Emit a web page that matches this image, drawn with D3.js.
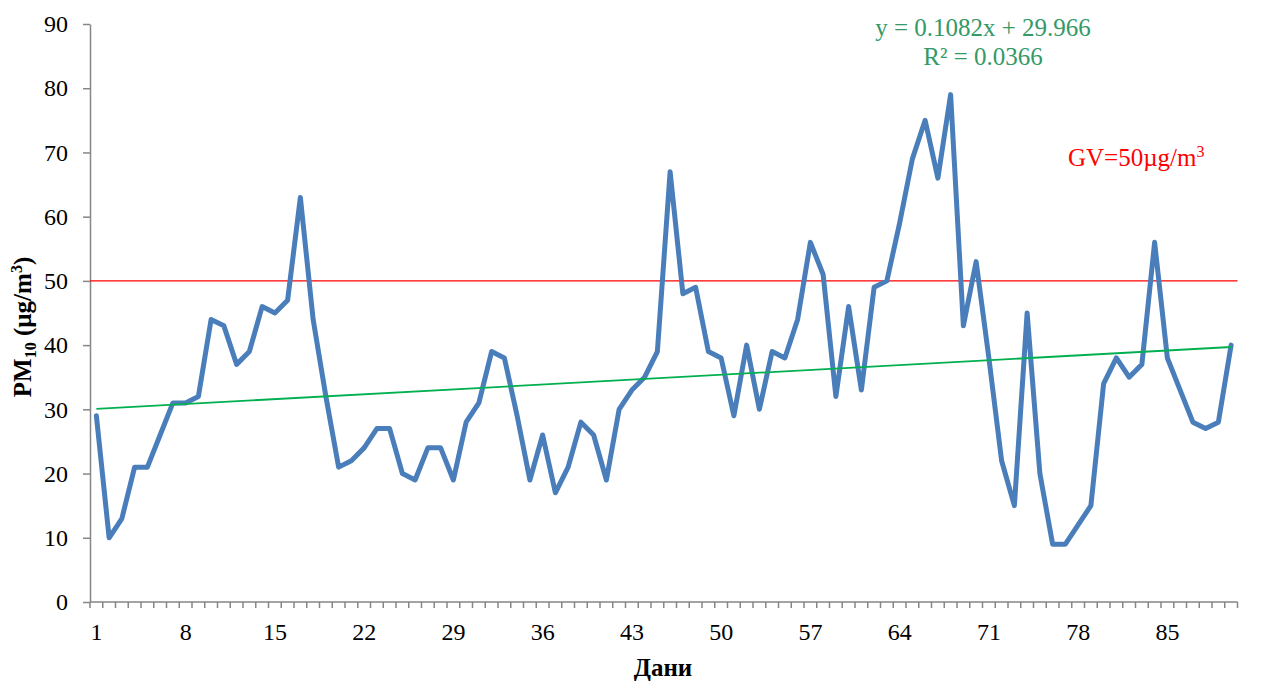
<!DOCTYPE html>
<html>
<head>
<meta charset="utf-8">
<script src="https://cdn.jsdelivr.net/npm/d3@7"></script>
<style>
    body { margin: 0; background: #fff; }
    svg text { font-family: "Liberation Serif", "Times New Roman", serif; }
</style>
</head>
<body>
<svg id="chart" width="1263" height="682"></svg>
<script>
// daily PM10 concentrations (µg/m3), days 1..90
var days = d3.range(1, 91);
var pm10 = [
    29, 10, 13, 21, 21, 26, 31, 31, 32, 44,
    43, 37, 39, 46, 45, 47, 63, 44, 32, 21,
    22, 24, 27, 27, 20, 19, 24, 24, 19, 28,
    31, 39, 38, 29, 19, 26, 17, 21, 28, 26,
    19, 30, 33, 35, 39, 67, 48, 49, 39, 38,
    29, 40, 30, 39, 38, 44, 56, 51, 32, 46,
    33, 49, 50, 59, 69, 75, 66, 79, 43, 53,
    38, 22, 15, 45, 20, 9, 9, 12, 15, 34,
    38, 35, 37, 56, 38, 33, 28, 27, 28, 40
];
var xTickLabels = [1, 8, 15, 22, 29, 36, 43, 50, 57, 64, 71, 78, 85];
var yTicks = [0, 10, 20, 30, 40, 50, 60, 70, 80, 90];

// guideline value and linear trend as printed on the chart
var limitValue = 50;
var trendSlope = 0.1082,
    trendIntercept = 29.966,
    trendR2 = 0.0366;

var margin = { left: 90, right: 25.5, top: 24, bottom: 80 },
    width = 1263,
    height = 682;

var svg = d3.select('#chart');

var x = d3.scaleBand()
    .domain(days)
    .range([margin.left, width - margin.right])
    .padding(0);

var y = d3.scaleLinear()
    .domain([0, 90])
    .range([height - margin.bottom, margin.top]);

var cx = function(d) { return x(d) + x.bandwidth() / 2; };

var axisColor = '#868686';

// y axis
var yAxis = svg.append('g')
    .attr('transform', 'translate(' + margin.left + ',0)')
    .call(d3.axisLeft(y).tickValues(yTicks).tickSize(7).tickPadding(15).tickSizeOuter(0));
yAxis.select('.domain').attr('stroke', axisColor).attr('stroke-width', 1.5);
yAxis.selectAll('.tick line').attr('stroke', axisColor).attr('stroke-width', 1.5);
yAxis.selectAll('.tick text')
    .attr('font-size', 24)
    .attr('fill', '#000')
    .style('font-family', '"Liberation Serif", serif');

// x axis: tick marks between categories, labels every 7 days
var xBase = y(0);
var bounds = days.map(function(d) { return x(d); }).concat([x(days[days.length - 1]) + x.bandwidth()]);

svg.append('line')
    .attr('x1', margin.left)
    .attr('x2', width - margin.right)
    .attr('y1', xBase)
    .attr('y2', xBase)
    .attr('stroke', axisColor)
    .attr('stroke-width', 1.5);

svg.append('g').selectAll('line')
    .data(bounds)
    .join('line')
    .attr('x1', function(d) { return d; })
    .attr('x2', function(d) { return d; })
    .attr('y1', xBase)
    .attr('y2', xBase + 6)
    .attr('stroke', axisColor)
    .attr('stroke-width', 1.5);

svg.append('g').selectAll('text')
    .data(xTickLabels)
    .join('text')
    .attr('x', function(d) { return cx(d); })
    .attr('y', xBase + 38)
    .attr('text-anchor', 'middle')
    .attr('font-size', 24)
    .text(function(d) { return d; });

// guideline value (red)
svg.append('line')
    .attr('x1', margin.left)
    .attr('x2', width - margin.right)
    .attr('y1', y(limitValue))
    .attr('y2', y(limitValue))
    .attr('stroke', '#ff0000')
    .attr('stroke-width', 1.3);

// series line
var line = d3.line()
    .x(function(d, i) { return cx(days[i]); })
    .y(function(d) { return y(d); });

svg.append('path')
    .datum(pm10)
    .attr('d', line)
    .attr('fill', 'none')
    .attr('stroke', '#4a7ebb')
    .attr('stroke-width', 5)
    .attr('stroke-linejoin', 'round')
    .attr('stroke-linecap', 'round');

// linear trend (green)
var first = days[0], last = days[days.length - 1];
svg.append('line')
    .attr('x1', cx(first))
    .attr('y1', y(trendSlope * first + trendIntercept))
    .attr('x2', cx(last))
    .attr('y2', y(trendSlope * last + trendIntercept))
    .attr('stroke', '#00b050')
    .attr('stroke-width', 1.8);

// trend equation
var eq = svg.append('text')
    .attr('text-anchor', 'middle')
    .attr('font-size', 25)
    .attr('fill', '#339966');
eq.append('tspan')
    .attr('x', 983).attr('y', 36)
    .text('y = ' + trendSlope + 'x + ' + trendIntercept);
eq.append('tspan')
    .attr('x', 983).attr('y', 65)
    .text('R² = ' + trendR2);

// guideline label
var gv = svg.append('text')
    .attr('x', 1068)
    .attr('y', 166)
    .attr('font-size', 25)
    .attr('fill', '#ff0000');
gv.append('tspan').text('GV=' + limitValue + 'µg/m');
gv.append('tspan').attr('font-size', 16).attr('dy', -9).text('3');

// axis titles
var yTitle = svg.append('text')
    .attr('transform', 'translate(31,' + 327 + ') rotate(-90)')
    .attr('text-anchor', 'middle')
    .attr('font-size', 25)
    .attr('font-weight', 'bold');
yTitle.append('tspan').text('PM');
yTitle.append('tspan').attr('font-size', 16).attr('dy', 5).text('10');
yTitle.append('tspan').attr('dy', -5).text(' (µg/m');
yTitle.append('tspan').attr('font-size', 16).attr('dy', -9).text('3');
yTitle.append('tspan').attr('dy', 9).text(')');

svg.append('text')
    .attr('x', 663)
    .attr('y', 676)
    .attr('text-anchor', 'middle')
    .attr('font-size', 25)
    .attr('font-weight', 'bold')
    .text('Дани');
</script>
</body>
</html>
